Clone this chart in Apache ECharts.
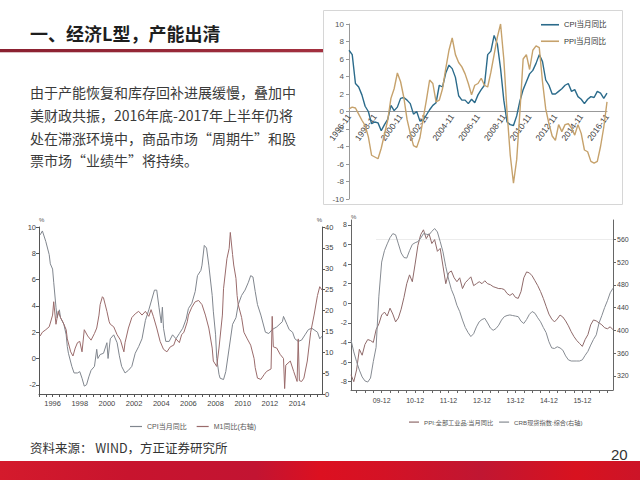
<!DOCTYPE html>
<html><head><meta charset="utf-8">
<script src="https://cdn.jsdelivr.net/npm/echarts@6/dist/echarts.min.js"></script>
<style>html,body{margin:0;padding:0;background:#fff}#c{width:640px;height:480px}</style>
</head><body><div id="c"></div>
<script>
// ---------- Chart 1 (top right): quarterly, 1996-11 .. 2016-11 ----------
const cpi1 = [7.0, 6.5, 3.2, 2.8, 1.9, 0.6, 0.0, -1.4, -1.2, -1.3,
  -2.2, -1.5, -0.9, 0.7, 0.1, 0.5, 1.5, 1.6, 1.3, 0.9,
  -0.3, 0.0, -1.1, -1.0, -0.4, 0.2, 0.7, 1.0, 3.0, 2.8,
  4.4, 5.3, 4.9, 3.9, 1.8, 1.3, 1.3, 0.9, 1.4, 1.0,
  1.9, 2.5, 3.0, 6.5, 6.9, 8.7, 7.7, 4.9, 1.3, -1.2,
  -1.5, -1.6, -0.5, 1.2, 2.5, 3.4, 4.3, 4.7, 5.5, 6.5,
  5.7, 3.6, 3.0, 2.0, 2.0, 2.3, 2.6, 3.0, 3.2, 2.3,
  2.5, 1.7, 1.4, 0.9, 1.4, 1.7, 1.6, 2.3, 2.1, 1.5, 2.1];
const ppi1 = [0.3, 0.5, 0.4, -0.3, -1.0, -1.6, -2.9, -5.0, -5.2, -5.4,
  -4.2, -2.6, -1.0, 1.5, 2.6, 4.4, 3.4, 1.6, -0.9, -2.5,
  -3.9, -4.1, -3.0, -0.8, 1.3, 3.6, 3.2, 1.1, 1.3, 2.6,
  4.9, 7.0, 8.4, 6.5, 5.6, 5.1, 4.3, 3.2, 1.9, 3.0,
  3.2, 3.8, 3.0, 2.8, 4.5, 6.5, 8.5, 10.0, 6.0, 0.0,
  -5.0, -8.2, -5.5, 0.0, 6.0, 6.5, 4.8, 7.0, 7.5, 7.3,
  3.4, 0.3, -1.4, -2.8, -3.3, -1.5, -2.3, -1.5, -1.4, -1.9,
  -2.7, -1.5, -2.5, -4.4, -4.6, -5.7, -5.9, -5.7, -4.0, -1.8, 1.1];
const months1 = [];
for (let y = 1996, m = 11, i = 0; i < cpi1.length; i++) {
  months1.push(y + '-' + String(m).padStart(2, '0'));
  m += 3; if (m > 12) { m -= 12; y++; }
}

// ---------- Chart 2 (bottom left): CPI (left) and M1 (right axis) ----------
const cpi2 = [['1995-02',9.4],['1995-04',9.7],['1995-07',8.9],['1995-10',7.9],['1995-11',7.2],['1996-01',6.8],['1996-02',5.8],['1996-04',3.9],['1996-05',3.1],['1996-07',3.7],['1996-08',3.1],['1996-11',2.6],['1997-01',1.8],['1997-02',0.9],['1997-03',0.4],['1997-06',-0.6],['1997-08',-1.1],['1997-11',-1.1],['1998-01',-1.0],['1998-03',-1.5],['1998-05',-2.1],['1998-07',-2.0],['1998-09',-1.4],['1998-11',-0.9],['1999-02',-0.6],['1999-04',0.7],['1999-05',0.0],['1999-07',0.3],['1999-10',0.4],['2000-01',1.2],['2000-02',0.0],['2000-04',1.5],['2000-07',1.8],['2000-10',1.2],['2000-12',0.2],['2001-02',-0.6],['2001-05',-1.1],['2001-08',-0.9],['2001-11',-0.6],['2002-02',0.4],['2002-05',0.9],['2002-08',1.5],['2002-11',2.9],['2003-02',3.7],['2003-05',4.6],['2003-07',5.2],['2003-09',5.2],['2003-11',3.9],['2004-01',2.7],['2004-02',3.9],['2004-03',2.3],['2004-05',1.3],['2004-08',1.3],['2004-11',1.8],['2005-02',1.5],['2005-05',1.9],['2005-08',2.3],['2005-11',3.0],['2006-01',3.8],['2006-04',4.2],['2006-07',5.1],['2006-09',6.3],['2006-12',6.7],['2007-01',7.1],['2007-03',8.6],['2007-05',8.4],['2007-07',7.1],['2007-10',4.8],['2007-11',3.6],['2008-01',1.8],['2008-02',0.0],['2008-04',-1.2],['2008-05',-1.5],['2008-08',-1.6],['2008-10',-1.0],['2009-01',0.8],['2009-04',2.6],['2009-07',3.1],['2009-09',4.1],['2009-12',4.8],['2010-03',5.2],['2010-06',5.8],['2010-08',6.3],['2010-10',6.2],['2010-12',5.1],['2011-02',4.1],['2011-05',3.3],['2011-09',2.0],['2011-12',1.9],['2012-03',2.2],['2012-07',2.4],['2012-12',2.8],['2013-01',3.2],['2013-04',2.6],['2013-06',2.2],['2013-09',2.0],['2013-11',1.5],['2014-02',1.3],['2014-05',1.4],['2014-08',1.8],['2014-11',2.2],['2015-02',2.3],['2015-07',2.0],['2015-09',1.5],['2015-11',1.7]];
const m1 = [['1995-02',13.9],['1995-04',14.8],['1995-07',15.4],['1995-10',16.1],['1995-11',17.0],['1996-01',18.9],['1996-02',22.1],['1996-04',16.7],['1996-06',19.8],['1996-08',18.3],['1996-10',17.3],['1997-01',15.4],['1997-02',13.2],['1997-05',10.1],['1997-07',9.1],['1997-09',11.0],['1997-11',12.3],['1998-01',12.6],['1998-03',10.1],['1998-05',15.4],['1998-08',13.9],['1998-11',12.9],['1999-02',14.5],['1999-04',15.8],['1999-06',18.9],['1999-07',21.4],['1999-09',23.3],['1999-10',23.0],['2000-01',19.8],['2000-03',17.3],['2000-04',16.7],['2000-07',16.1],['2000-10',14.2],['2001-01',12.9],['2001-03',11.0],['2001-04',10.1],['2001-05',12.3],['2001-08',15.8],['2001-11',18.3],['2002-02',19.2],['2002-05',19.8],['2002-08',18.9],['2002-11',19.8],['2003-02',18.6],['2003-04',20.2],['2003-06',18.6],['2003-09',15.8],['2003-12',12.6],['2004-03',10.7],['2004-06',10.1],['2004-09',11.3],['2004-12',11.7],['2005-02',13.2],['2005-05',12.3],['2005-07',14.2],['2005-09',14.8],['2005-12',17.3],['2006-01',18.9],['2006-04',20.8],['2006-07',22.1],['2006-10',22.4],['2007-01',21.4],['2007-04',18.9],['2007-07',15.8],['2007-10',11.0],['2007-11',7.9],['2008-02',6.6],['2008-04',11.0],['2008-07',18.9],['2008-08',25.2],['2008-11',32.4],['2009-01',34.9],['2009-02',38.7],['2009-04',33.4],['2009-05',30.9],['2009-07',27.7],['2009-08',23.6],['2009-09',21.4],['2009-12',18.3],['2010-02',14.8],['2010-05',13.2],['2010-08',11.7],['2010-11',8.5],['2010-12',6.3],['2011-02',3.8],['2011-05',3.5],['2011-08',4.7],['2011-10',5.4],['2012-02',6.0],['2012-03',18.6],['2012-04',11.3],['2012-07',11.0],['2012-10',9.5],['2013-01',8.5],['2013-02',1.3],['2013-03',6.9],['2013-07',7.9],['2013-10',5.4],['2014-01',3.0],['2014-02',13.2],['2014-03',3.2],['2014-05',3.0],['2014-07',3.8],['2014-10',7.9],['2015-01',14.8],['2015-04',18.9],['2015-07',23.6],['2015-09',25.7],['2015-11',24.9]];
const toM = s => (Number(s.slice(0, 4)) - 1995) * 12 + Number(s.slice(5, 7)) - 1;

// ---------- Chart 3 (bottom right): monthly 2009-01 .. 2016-11 ----------
const ppi3 = [-7.3,-8.0,-6.8,-4.7,-5.3,-4.2,-3.7,-3.8,-4.0,-2.7,
  -2.1,-1.2,-0.9,-1.3,-0.5,-1.1,-1.9,-1.5,-0.6,0.6,
  2.0,2.9,2.2,4.0,5.9,7.0,7.5,6.6,7.1,6.1,
  6.5,5.3,5.6,3.8,2.0,3.1,3.3,2.6,2.2,2.6,
  1.5,2.1,2.4,2.7,1.8,2.0,2.2,2.0,2.3,2.0,
  1.9,1.7,1.6,1.5,1.5,1.4,1.0,0.8,1.0,0.6,
  0.5,1.2,2.6,3.2,3.1,2.8,2.3,1.8,1.2,0.5,
  -0.3,-1.1,-1.6,-1.9,-1.6,-1.2,-1.4,-1.8,-2.3,-2.9,
  -3.4,-3.8,-4.1,-4.4,-3.7,-3.2,-2.2,-1.7,-1.8,-2.0,
  -2.2,-2.5,-2.6,-2.4,-2.7];
const crb3 = [383,362,345,330,318,311,309,316,345,370,
  460,520,540,552,563,570,568,552,536,528,
  527,540,551,554,556,562,570,569,568,574,
  579,573,556,538,512,490,472,460,444,433,
  418,405,396,389,394,406,415,419,421,413,
  404,400,403,409,418,424,426,427,426,425,
  424,416,412,419,428,433,430,422,415,405,
  396,380,369,368,371,369,365,355,348,346,
  346,346,346,348,356,363,374,384,392,413,
  426,440,452,466,474];
const months3 = [];
for (let y = 2009, m = 1, i = 0; i < ppi3.length; i++) {
  months3.push(y + '-' + String(m).padStart(2, '0'));
  m++; if (m > 12) { m = 1; y++; }
}

const paragraph = [
  '由于产能恢复和库存回补进展缓慢，叠加中',
  '美财政共振，2016年底-2017年上半年仍将',
  '处在滞涨环境中，商品市场“周期牛”和股',
  '票市场“业绩牛”将持续。'
];

const FONT = "'Liberation Sans','Noto Sans CJK SC',sans-serif";
const CJK = "'Noto Sans CJK SC',sans-serif";
const chart = echarts.init(document.getElementById('c'), null, { renderer: 'svg' });

const graphics = [
  { type: 'rect', z: 0, shape: { x: 0, y: 49, width: 326, height: 3 },
    style: { fill: new echarts.graphic.LinearGradient(0, 0, 1, 0, [{ offset: 0, color: '#8a2030' }, { offset: 1, color: '#a3303f' }]) } },
  { type: 'rect', z: 0, shape: { x: 0, y: 52, width: 326, height: 1 }, style: { fill: '#dcc0c4' } },
  { type: 'rect', z: 0, shape: { x: 323.5, y: 10.5, width: 299, height: 194 }, style: { fill: '#fff', stroke: '#d6d6d6', lineWidth: 1 } },
  { type: 'text', z: 1, x: 30, y: 33, style: { text: '一、经济L型，产能出清', fontSize: 18, fontWeight: 'bold', fontFamily: CJK, fill: '#1e1e1e', textVerticalAlign: 'middle' } },
  { type: 'rect', z: 0, shape: { x: 0, y: 461, width: 640, height: 19 },
    style: { fill: new echarts.graphic.LinearGradient(0, 0, 1, 0, [
      { offset: 0, color: '#d41a2c' }, { offset: 0.2, color: '#c8142e' }, { offset: 0.4, color: '#c21432' },
      { offset: 0.5, color: '#dc1020' }, { offset: 0.6, color: '#d41225' }, { offset: 0.75, color: '#c01632' },
      { offset: 0.9, color: '#d8121f' }, { offset: 1, color: '#cc1428' }]) } },
  { type: 'text', z: 1, x: 30, y: 447, style: { text: '资料来源： WIND，方正证券研究所', fontSize: 12.5, fontFamily: CJK, fill: '#333', textVerticalAlign: 'middle' } },
  { type: 'text', z: 1, x: 611, y: 454, style: { text: '20', fontSize: 15, fontFamily: FONT, fill: '#333', textVerticalAlign: 'middle' } }
];
paragraph.forEach((t, i) => {
  graphics.push({ type: 'text', z: 1, x: 30, y: [92, 115, 138, 160][i],
    style: { text: t, fontSize: 14, fontFamily: CJK, fill: '#3a3a3a', textVerticalAlign: 'middle' } });
});

const lineS = (name, xi, yi, data, color, w) => ({
  name, type: 'line', xAxisIndex: xi, yAxisIndex: yi, data, symbol: 'none', showSymbol: false,
  lineStyle: { width: w, color }, itemStyle: { color }, z: 5, silent: true
});

const option = {
  animation: false,
  textStyle: { fontFamily: FONT },
  graphic: graphics,
  grid: [
    { left: 349, top: 24, width: 258, height: 175 },
    { left: 39, top: 227, width: 283, height: 167 },
    { left: 351, top: 220, width: 262, height: 170 },
    { left: 349, top: 24, width: 258, height: 87 }   // label strip for chart 1 (ends on the zero line)
  ],
  legend: [
    { data: ['CPI当月同比', 'PPI当月同比'], left: 536, top: 16, orient: 'vertical', itemGap: 9, itemWidth: 18, itemHeight: 1.6, icon: 'rect',
      textStyle: { fontSize: 7.5, color: '#333', fontFamily: FONT } },
    { data: ['CPI当月同比-2', 'M1同比(右轴)'], left: 125, top: 418, itemGap: 10, itemWidth: 12, itemHeight: 1.2, icon: 'rect',
      formatter: n => n.replace('-2', ''), textStyle: { fontSize: 7, color: '#555', fontFamily: FONT } },
    { data: ['PPI:全部工业品:当月同比', 'CRB现货指数:综合(右轴)'], left: 404, top: 414, itemGap: 6, itemWidth: 10, itemHeight: 1.2, icon: 'rect',
      textStyle: { fontSize: 6.2, color: '#555', fontFamily: FONT } }
  ],
  xAxis: [
    { gridIndex: 0, type: 'category', data: months1, boundaryGap: false, z: 3,
      axisLine: { onZero: true, lineStyle: { color: '#999' } }, axisTick: { show: false },
      axisLabel: { show: false }, splitLine: { show: false } },
    { gridIndex: 1, type: 'value', min: 0, max: 250, interval: 6, z: 3,
      axisLine: { onZero: false, lineStyle: { color: '#555' } }, axisTick: { length: 3, lineStyle: { color: '#555' } },
      axisLabel: { formatter: v => (v % 24 === 12 ? String(1995 + v / 12) : ''), fontSize: 7.5, color: '#444', margin: 6, showMaxLabel: false },
      splitLine: { show: false } },
    { gridIndex: 2, type: 'category', data: months3, boundaryGap: false, z: 3,
      axisLine: { onZero: false, lineStyle: { color: '#666' } },
      axisTick: { interval: (i, v) => Number(v.slice(5)) % 3 === 0, length: 3, lineStyle: { color: '#666' } },
      axisLabel: { interval: (i, v) => v.slice(5) === '12', formatter: v => v.slice(2), fontSize: 7, color: '#444', margin: 7 },
      splitLine: { show: false } },
    { gridIndex: 3, type: 'category', data: months1, boundaryGap: false, z: 3,
      axisLine: { show: false, onZero: false }, axisTick: { show: false },
      axisLabel: { interval: i => i % 8 === 0, rotate: 54, fontSize: 8.5, color: '#444', margin: 4 },
      splitLine: { show: false } }
  ],
  yAxis: [
    { gridIndex: 0, type: 'value', min: -10, max: 10, interval: 2, z: 3,
      axisLine: { show: true, onZero: false, lineStyle: { color: '#999' } }, axisTick: { show: true, length: 3, lineStyle: { color: '#999' } },
      axisLabel: { fontSize: 8, color: '#555', margin: 5 }, splitLine: { show: false } },
    { gridIndex: 1, type: 'value', min: -2.7, max: 10, z: 3, name: '%', nameGap: 1,
      nameTextStyle: { fontSize: 6, color: '#555', align: 'left' },
      axisLine: { show: true, onZero: false, lineStyle: { color: '#555' } },
      axisTick: { show: true, length: 3, customValues: [-2, 0, 2, 4, 6, 8, 10], lineStyle: { color: '#555' } },
      axisLabel: { customValues: [-2, 0, 2, 4, 6, 8, 10], fontSize: 7.5, color: '#444', margin: 3 }, splitLine: { show: false } },
    { gridIndex: 1, type: 'value', position: 'right', min: 0, max: 40, interval: 5, z: 3, name: '%', nameGap: 1,
      nameTextStyle: { fontSize: 6, color: '#555', align: 'right' },
      axisLine: { show: true, onZero: false, lineStyle: { color: '#555' } }, axisTick: { show: true, length: 3, lineStyle: { color: '#555' } },
      axisLabel: { fontSize: 7.5, color: '#444', margin: 3 }, splitLine: { show: false } },
    { gridIndex: 2, type: 'value', min: -8.85, max: 8.5, z: 3, name: '%', nameGap: 0,
      nameTextStyle: { fontSize: 6, color: '#555', align: 'left' },
      axisLine: { show: true, onZero: false, lineStyle: { color: '#666' } },
      axisTick: { show: true, length: 3, customValues: [-8, -6, -4, -2, 0, 2, 4, 6, 8], lineStyle: { color: '#666' } },
      axisLabel: { customValues: [-8, -6, -4, -2, 0, 2, 4, 6, 8], fontSize: 7, color: '#444', margin: 4 }, splitLine: { show: false } },
    { gridIndex: 2, type: 'value', position: 'right', min: 295, max: 594, z: 3,
      axisLine: { show: true, onZero: false, lineStyle: { color: '#666' } },
      axisTick: { show: true, length: 3, customValues: [320, 360, 400, 440, 480, 520, 560], lineStyle: { color: '#666' } },
      axisLabel: { customValues: [320, 360, 400, 440, 480, 520, 560], fontSize: 7, color: '#444', margin: 4 }, splitLine: { show: false } },
    { gridIndex: 3, type: 'value', show: false, min: 0, max: 1 }
  ],
  series: [
    lineS('CPI当月同比', 0, 0, cpi1, '#2b6b8b', 1.4),
    lineS('PPI当月同比', 0, 0, ppi1, '#c6a26c', 1.4),
    lineS('CPI当月同比-2', 1, 1, cpi2.map(d => [toM(d[0]), d[1]]), '#80868e', 1),
    lineS('M1同比(右轴)', 1, 2, m1.map(d => [toM(d[0]), d[1]]), '#9a6b6b', 1),
    lineS('PPI:全部工业品:当月同比', 2, 3, ppi3, '#8f6a6a', 1),
    Object.assign(lineS('CRB现货指数:综合(右轴)', 2, 4, crb3, '#868b92', 1), {
      markLine: { silent: true, symbol: 'none', label: { show: false }, lineStyle: { color: '#ececec', type: 'solid', width: 1 },
        data: [[{ coord: ['2009-10', 560] }, { coord: ['2016-11', 560] }]] }
    })
  ]
};
chart.setOption(option);
</script>
</body></html>
